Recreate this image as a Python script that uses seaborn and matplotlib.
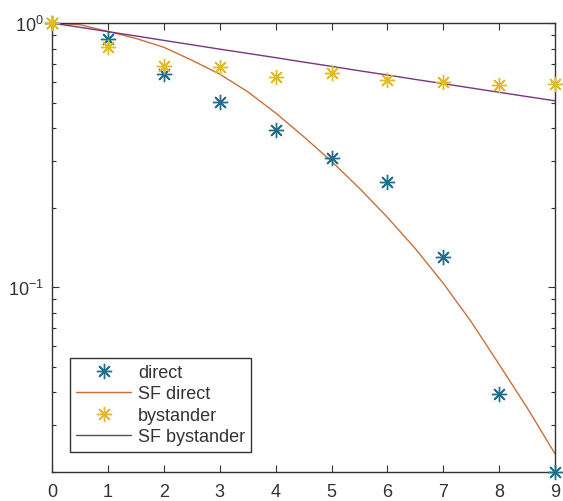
import matplotlib
matplotlib.use("Agg")
import matplotlib.pyplot as plt
import seaborn as sns
from matplotlib.ticker import NullFormatter

sns.set_theme(style="ticks")
plt.rcParams['font.family'] = ['Liberation Sans', 'DejaVu Sans']

# measured points
x_pts = [0, 1, 2, 3, 4, 5, 6, 7, 8, 9]
direct = [1.0, 0.87, 0.641, 0.501, 0.395, 0.308, 0.251, 0.130, 0.0393, 0.02]
bystander = [1.0, 0.809, 0.69, 0.68, 0.623, 0.647, 0.61, 0.60, 0.583, 0.588]

# fitted curves
x_fit = [0, 0.5, 1, 1.5, 2, 2.5, 3, 3.5, 4, 4.5, 5, 5.5, 6, 6.5, 7, 7.5, 8, 8.5, 9]
sf_direct = [1.0, 0.986, 0.93, 0.875, 0.81, 0.724, 0.641, 0.55, 0.457, 0.372,
             0.30, 0.237, 0.184, 0.14, 0.1035, 0.074, 0.051, 0.035, 0.0234]
sf_bystander = [1.0, 0.964, 0.928, 0.894, 0.86, 0.828, 0.797, 0.768, 0.74,
                0.712, 0.686, 0.66, 0.636, 0.612, 0.590, 0.568, 0.547, 0.527, 0.508]

blue = '#1F6F8F'
orange = '#C8703A'
yellow = '#E2B928'
purple = '#77357F'
dark = '#333333'

fig, ax = plt.subplots(figsize=(5.63, 5.02), dpi=100)
fig.subplots_adjust(left=0.0924, right=0.986, bottom=0.0578, top=0.952)

star = (8, 2, 0)
sns.lineplot(x=x_pts, y=direct, ax=ax, linestyle='', marker=star, markersize=11,
             markeredgewidth=1.0, markeredgecolor=blue, color=blue,
             label='direct', clip_on=False, zorder=3)
sns.lineplot(x=x_fit, y=sf_direct, ax=ax, color=orange, linewidth=1.0,
             label='SF direct')
sns.lineplot(x=x_pts, y=bystander, ax=ax, linestyle='', marker=star, markersize=11,
             markeredgewidth=1.0, markeredgecolor=yellow, color=yellow,
             label='bystander', clip_on=False, zorder=3)
sns.lineplot(x=x_fit, y=sf_bystander, ax=ax, color=purple, linewidth=1.0,
             label='SF bystander')

ax.set_yscale('log')
ax.set_xlim(0, 9)
ax.set_ylim(0.02, 1)
ax.set_xticks(x_pts)
ax.yaxis.set_minor_formatter(NullFormatter())

ax.tick_params(which='both', direction='in', top=True, right=True,
               colors=dark, labelsize=13, width=0.8)
ax.tick_params(which='major', length=5)
ax.tick_params(which='minor', length=3)
ax.tick_params(axis='x', which='major', pad=8)
ax.tick_params(axis='y', which='major', pad=6)
for s in ax.spines.values():
    s.set_color(dark)
    s.set_linewidth(1.0)

leg = ax.legend(loc='lower left', bbox_to_anchor=(0.036, 0.045), borderaxespad=0,
                fancybox=False, framealpha=1, edgecolor=dark, fontsize=13,
                handlelength=3.0, handletextpad=0.4, labelspacing=0.25,
                borderpad=0.35)
leg.get_frame().set_linewidth(1.0)
for t in leg.get_texts():
    t.set_color(dark)

fig.savefig('out.png', dpi=100)
